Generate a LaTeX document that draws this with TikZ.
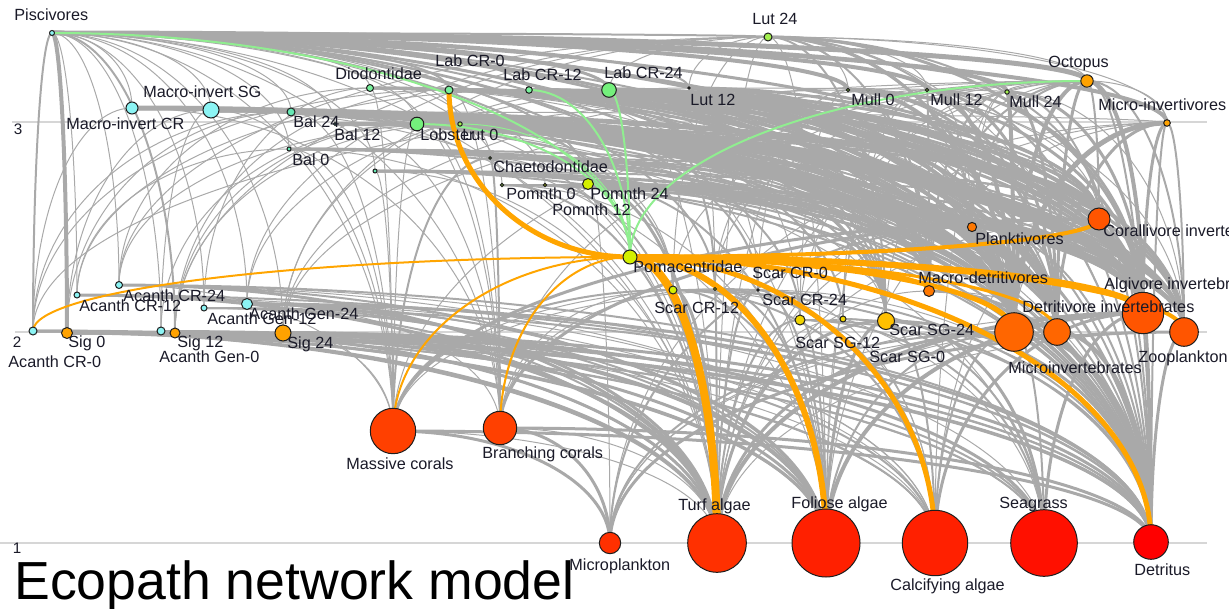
\documentclass[tikz,border=0pt]{standalone}
\usepackage{fontspec}
\setmainfont{Liberation Sans}
\usetikzlibrary{calc}
\pgfdeclarelayer{axes}
\pgfdeclarelayer{edges}
\pgfsetlayers{axes,edges,main}

% palette
\definecolor{edgegray}{HTML}{A9A9A9}
\definecolor{edgegreen}{HTML}{90EE90}
\definecolor{edgeorange}{HTML}{FFA500}
\definecolor{axisgray}{HTML}{D6D6D6}
\definecolor{nodeline}{HTML}{1E1E1E}
\definecolor{labeltext}{HTML}{1A1A28}
\definecolor{cyanA}{HTML}{8CF4F4}
\definecolor{aquaA}{HTML}{66E8B4}
\definecolor{greenA}{HTML}{78F09C}
\definecolor{greenB}{HTML}{74F07C}
\definecolor{limeA}{HTML}{A4F050}
\definecolor{limeB}{HTML}{D4F000}
\definecolor{yelA}{HTML}{F0D400}
\definecolor{yelB}{HTML}{FFC000}
\definecolor{orA}{HTML}{FFA200}
\definecolor{orB}{HTML}{FF7800}
\definecolor{orC}{HTML}{FF6600}
\definecolor{orD}{HTML}{FF5500}
\definecolor{redA}{HTML}{FF4000}
\definecolor{redB}{HTML}{FF3000}
\definecolor{redC}{HTML}{FF2000}
\definecolor{redD}{HTML}{FF1000}
\definecolor{redE}{HTML}{FF0000}

% a functional group: name, x, y, radius (px), fill
\newcommand\fwnode[5]{\node[fwn,fill=#5,minimum size=#4pt] (#1) at (#2,#3) {};}
% a flow: leaves the source horizontally, reaches the target vertically
\newcommand\fwarc[4]{%
  \draw[#1,line width=#4*0.5pt] let \p1=(#2.center), \p2=(#3.center) in
    (#2.center) .. controls ({\x1+0.5523*(\x2-\x1)},\y1) and (\x2,{\y2+0.5523*(\y1-\y2)}) .. (#3.center);}

\begin{document}
\begin{tikzpicture}[x=0.5pt,y=-0.5pt,
  fwn/.style={circle,draw=nodeline,line width=0.5pt,inner sep=0pt},
  lbl/.style={anchor=base west,inner sep=0pt,font=\fontsize{8.1}{9.7}\selectfont,text=labeltext,yshift=-2.9pt},
  axislbl/.style={anchor=base,inner sep=0pt,font=\fontsize{7.6}{8}\selectfont,text=labeltext},
  axisline/.style={draw=axisgray,line width=0.6pt},
  fwgray/.style={draw=edgegray},
  fwgreen/.style={draw=edgegreen},
  fworange/.style={draw=edgeorange}]
\useasboundingbox (0,0) rectangle (1229,609);

% trophic level guide lines
\begin{pgfonlayer}{axes}
  \draw[axisline] (12,122) -- (1207,122);
  \draw[axisline] (15,332) -- (1207,332);
  \draw[axisline] (0,543) -- (1207,543);
\end{pgfonlayer}
\node[axislbl] (ax3) at (18,135) {3};
\node[axislbl] (ax2) at (17,347) {2};
\node[axislbl] (ax1) at (17,553) {1};

% functional groups
\fwnode{pisc}{52}{33}{2.5}{cyanA}
\fwnode{mcr}{132}{108}{6}{cyanA}
\fwnode{msg}{211}{110}{8}{cyanA}
\fwnode{bal24}{291}{112}{4}{aquaA}
\fwnode{bal12}{335}{124}{1.5}{aquaA}
\fwnode{bal0}{289}{149}{2}{aquaA}
\fwnode{fishx}{375}{171}{2}{aquaA}
\fwnode{diod}{370}{88}{3.5}{greenA}
\fwnode{lab0}{449}{90}{4}{greenA}
\fwnode{lab12}{529}{90}{3.3}{greenA}
\fwnode{lab24}{609}{90}{7.3}{greenB}
\fwnode{lut24}{768}{37}{4}{limeA}
\fwnode{lut12}{689}{88}{1.2}{black}
\fwnode{lob}{417}{124}{6.8}{greenB}
\fwnode{lut0}{460}{124}{2.2}{limeA}
\fwnode{chae}{490}{158}{1.3}{limeA}
\fwnode{pom0}{502}{185}{1.6}{limeA}
\fwnode{pom12}{545}{185}{1.6}{limeB}
\fwnode{pom24}{588}{184}{5.5}{limeB}
\fwnode{mull0}{848}{90}{1.6}{limeA}
\fwnode{mull12}{927}{90}{1.6}{limeA}
\fwnode{mull24}{1007}{92}{2.2}{limeA}
\fwnode{octo}{1087}{81}{6.2}{orA}
\fwnode{micv}{1167}{123}{3.3}{orA}
\fwnode{poma}{630}{257}{7}{limeB}
\fwnode{plank}{972}{227}{4.6}{orB}
\fwnode{coral}{1099}{219}{11}{orD}
\fwnode{scr0}{715}{289}{1.5}{limeB}
\fwnode{scr12}{673}{290}{4}{limeB}
\fwnode{scr24}{758}{290}{1.2}{black}
\fwnode{mdet}{929}{291}{5.5}{orB}
\fwnode{ssg12}{800}{320}{5}{yelA}
\fwnode{ssg0}{843}{319}{3}{yelA}
\fwnode{ssg24}{886}{321}{8.5}{yelB}
\fwnode{minv}{1014}{332}{19.3}{orC}
\fwnode{dinv}{1057}{332}{13.3}{orC}
\fwnode{alg}{1143}{313}{20.7}{orD}
\fwnode{zoo}{1184}{332}{14.3}{orD}
\fwnode{acr0}{33}{331}{4}{cyanA}
\fwnode{sig0}{67}{333}{5.5}{orA}
\fwnode{acr12}{77}{295}{3}{cyanA}
\fwnode{acr24}{119}{285}{3.5}{cyanA}
\fwnode{ag12}{204}{308}{3}{cyanA}
\fwnode{ag24}{247}{304}{5.5}{cyanA}
\fwnode{ag0}{161}{331}{4}{cyanA}
\fwnode{sig12}{175}{333}{5}{orA}
\fwnode{sig24}{283}{333}{8}{orA}
\fwnode{mas}{393}{431}{22.7}{redA}
\fwnode{bra}{500}{428}{16.7}{redA}
\fwnode{mpl}{610}{543}{10.7}{redB}
\fwnode{turf}{717}{543}{29.3}{redB}
\fwnode{fol}{826}{543}{34}{redC}
\fwnode{calc}{935}{543}{32.7}{redC}
\fwnode{sea}{1044}{543}{33.3}{redD}
\fwnode{det}{1151}{542}{17.3}{redE}

% flows between groups
\begin{pgfonlayer}{edges}
\foreach \s/\t/\w in {
  pisc/acr0/2, pisc/sig0/4, pisc/acr12/1, pisc/acr24/1, pisc/ag0/1, pisc/sig12/2,
  pisc/ag12/1, pisc/ag24/1, pisc/sig24/1, pisc/mcr/1, pisc/msg/1, pisc/bal24/1,
  pisc/bal12/1, pisc/bal0/1, pisc/fishx/1, pisc/diod/1, pisc/lab0/2, pisc/lab12/2,
  pisc/lab24/3, pisc/lut24/2, pisc/lut12/2, pisc/lob/1, pisc/lut0/1, pisc/chae/1,
  pisc/pom0/1, pisc/pom12/1, pisc/pom24/2, pisc/mull0/4, pisc/mull12/4, pisc/mull24/4,
  pisc/octo/5, pisc/micv/4, pisc/plank/4, pisc/coral/3, pisc/scr0/2, pisc/scr12/2,
  pisc/scr24/2, pisc/ssg0/2, pisc/ssg12/2, pisc/ssg24/3, pisc/mdet/3, pisc/mas/1,
  pisc/bra/1, pisc/minv/3, pisc/alg/3, pisc/dinv/2, pisc/zoo/2, pisc/det/1, pisc/turf/1}
  {\fwarc{fwgray}{\s}{\t}{\w}}
\foreach \s/\t/\w in {
  lut24/lut12/1, lut24/lab24/1, lut24/octo/1, lut24/mull0/1, lut24/mull12/1, lut24/micv/1,
  lut24/acr24/1, lut24/sig24/1, lut24/ag24/1, lut24/plank/2, lut24/scr12/1, lut24/ssg24/2,
  lut24/minv/3, lut24/dinv/2, lut24/alg/3, lut24/coral/2, lut24/det/1, lut24/sig12/1,
  lut24/turf/1, lut24/fol/1, lut24/mdet/2,
  mcr/minv/4, mcr/dinv/4, mcr/alg/5, mcr/coral/3, mcr/mdet/2, mcr/det/2, mcr/zoo/2,
  mcr/bra/1, mcr/acr0/1, mcr/plank/1, mcr/ssg24/1,
  msg/alg/5, msg/minv/5, msg/dinv/4, msg/coral/3, msg/mdet/3, msg/det/2, msg/sea/1,
  msg/fol/1, msg/mas/1, msg/sig0/1, msg/ag0/1, msg/zoo/3, msg/plank/2,
  bal24/alg/4, bal24/minv/4, bal24/dinv/3, bal24/coral/3, bal24/mdet/2, bal24/det/2,
  bal24/micv/1, bal24/turf/1, bal24/mas/1, bal24/acr0/1, bal24/sig0/1, bal24/zoo/2, bal24/plank/1,
  bal12/alg/4, bal12/minv/3, bal12/dinv/3, bal12/coral/3, bal12/det/2, bal12/bra/1, bal12/zoo/2,
  bal12/mdet/2,
  bal0/alg/3, bal0/minv/3, bal0/dinv/2, bal0/coral/2, bal0/det/2, bal0/turf/1, bal0/mas/1,
  bal0/acr12/1, bal0/zoo/2,
  fishx/alg/3, fishx/minv/3, fishx/det/2, fishx/turf/1, fishx/mas/1, fishx/dinv/2,
  fishx/zoo/2, fishx/coral/2,
  diod/alg/3, diod/coral/2, diod/minv/3, diod/dinv/2, diod/mdet/2, diod/det/1, diod/mas/1,
  diod/bra/1, diod/acr24/1, diod/ag12/1, diod/ssg24/1}
  {\fwarc{fwgray}{\s}{\t}{\w}}
\foreach \s/\t/\w in {
  lab0/minv/4, lab0/dinv/3, lab0/alg/4, lab0/coral/2, lab0/zoo/3, lab0/mdet/2, lab0/det/2,
  lab0/acr0/1, lab0/sig12/1, lab0/bra/1, lab0/ssg24/2, lab0/plank/1,
  lab12/minv/4, lab12/alg/4, lab12/zoo/3, lab12/coral/2, lab12/dinv/3, lab12/plank/2,
  lab12/det/2, lab12/acr12/1, lab12/ssg24/2, lab12/mdet/2, lab12/fol/1,
  lab24/minv/5, lab24/alg/5, lab24/zoo/4, lab24/coral/3, lab24/dinv/4, lab24/mdet/3,
  lab24/plank/2, lab24/det/3, lab24/sig24/1, lab24/scr24/1, lab24/ssg24/2, lab24/scr0/2,
  lab24/ssg12/1, lab24/turf/1,
  lut12/minv/3, lut12/alg/3, lut12/dinv/2, lut12/mull24/1, lut12/det/2, lut12/ag24/1,
  lut12/scr0/1, lut12/ssg24/2, lut12/plank/1, lut12/mdet/2,
  lob/alg/4, lob/minv/4, lob/dinv/3, lob/coral/3, lob/mdet/2, lob/det/2, lob/mas/1,
  lob/turf/1, lob/bra/1, lob/ag0/1, lob/sig12/1, lob/ssg24/2, lob/plank/1, lob/zoo/2,
  lut0/minv/3, lut0/alg/3, lut0/acr24/1, lut0/sig12/1, lut0/scr12/1, lut0/dinv/2,
  lut0/zoo/2, lut0/det/2,
  chae/mas/2, chae/bra/2, chae/coral/2, chae/turf/1, chae/det/2, chae/minv/2, chae/alg/2,
  pom0/turf/2, pom0/fol/1, pom0/minv/2, pom0/det/2, pom0/zoo/2, pom0/alg/2, pom0/dinv/1,
  pom12/turf/2, pom12/zoo/2, pom12/minv/2, pom12/det/2, pom12/alg/2, pom12/dinv/1,
  pom24/turf/3, pom24/fol/2, pom24/zoo/3, pom24/minv/3, pom24/det/2, pom24/mpl/1,
  pom24/alg/3, pom24/dinv/2}
  {\fwarc{fwgray}{\s}{\t}{\w}}
\foreach \s/\t/\w in {
  mull0/minv/4, mull0/dinv/3, mull0/alg/3, mull0/mdet/2, mull0/det/2, mull0/zoo/1,
  mull0/coral/1, mull0/sig24/1, mull0/ssg12/1, mull0/plank/1, mull0/scr24/1, mull0/turf/1,
  mull12/minv/4, mull12/dinv/3, mull12/alg/3, mull12/mdet/2, mull12/det/2, mull12/ssg0/1,
  mull12/plank/1, mull12/scr0/1, mull12/fol/1,
  mull24/minv/4, mull24/dinv/3, mull24/alg/3, mull24/mdet/2, mull24/det/2, mull24/zoo/1,
  mull24/plank/1, mull24/ssg0/1, mull24/calc/1,
  octo/minv/4, octo/dinv/3, octo/alg/4, octo/zoo/2, octo/coral/2, octo/det/2, octo/mdet/2,
  octo/micv/1, octo/mull24/1, octo/ssg24/1, octo/scr12/1, octo/sig24/1, octo/acr0/1,
  octo/turf/1, octo/plank/2, octo/ssg12/1, octo/scr0/1, octo/mas/1, octo/bra/1,
  micv/minv/5, micv/dinv/3, micv/zoo/2, micv/alg/3, micv/det/2, micv/fol/1, micv/turf/1,
  micv/mpl/1,
  plank/zoo/4, plank/mpl/2, plank/det/2, plank/minv/1, plank/turf/1,
  coral/mas/3, coral/bra/3, coral/det/2, coral/minv/1, coral/turf/1, coral/calc/1,
  scr0/turf/2, scr0/fol/2, scr0/calc/2, scr0/det/2, scr0/mas/1, scr0/bra/1,
  scr12/turf/3, scr12/fol/2, scr12/calc/2, scr12/det/2, scr12/mas/2, scr12/bra/1, scr12/sea/1,
  scr24/turf/2, scr24/fol/2, scr24/calc/1, scr24/det/1, scr24/mas/1,
  mdet/det/3, mdet/minv/2, mdet/dinv/1, mdet/turf/1,
  ssg12/sea/2, ssg12/turf/2, ssg12/fol/2, ssg12/calc/1, ssg12/det/2,
  ssg0/sea/2, ssg0/turf/1, ssg0/fol/1, ssg0/det/1,
  ssg24/sea/3, ssg24/turf/3, ssg24/fol/3, ssg24/calc/2, ssg24/det/3}
  {\fwarc{fwgray}{\s}{\t}{\w}}
\foreach \s/\t/\w in {
  minv/turf/3, minv/fol/2, minv/calc/2, minv/sea/2, minv/det/4, minv/mpl/2,
  dinv/det/4, dinv/turf/1, dinv/mpl/1,
  alg/turf/4, alg/fol/4, alg/calc/3, alg/sea/3, alg/det/3, alg/mpl/1,
  zoo/mpl/3, zoo/det/3, zoo/turf/1,
  acr0/turf/3, acr0/fol/2, acr0/calc/1, acr0/det/3, acr0/sea/1,
  sig0/turf/3, sig0/fol/3, sig0/sea/2, sig0/calc/2, sig0/det/3,
  acr12/turf/3, acr12/fol/2, acr12/det/2, acr12/calc/1,
  acr24/turf/3, acr24/fol/2, acr24/det/2, acr24/calc/1, acr24/sea/1, acr24/mas/1,
  ag12/turf/2, ag12/fol/2, ag12/det/2,
  ag24/turf/3, ag24/fol/2, ag24/det/3, ag24/calc/1, ag24/bra/1,
  ag0/turf/2, ag0/fol/1, ag0/det/2,
  sig12/turf/3, sig12/fol/3, sig12/sea/2, sig12/det/2, sig12/calc/1,
  sig24/turf/4, sig24/fol/4, sig24/sea/3, sig24/calc/2, sig24/det/3, sig24/mas/1,
  mas/mpl/3, mas/det/3, mas/turf/1,
  bra/mpl/3, bra/det/3, bra/turf/1}
  {\fwarc{fwgray}{\s}{\t}{\w}}
% predators of Pomacentridae
\foreach \s/\t/\w in {pisc/poma/2, octo/poma/2, lab12/poma/2, lab24/poma/2, lob/poma/2, lut0/poma/1}
  {\fwarc{fwgreen}{\s}{\t}{\w}}
% flows leaving Pomacentridae
\foreach \s/\t/\w in {
  poma/acr0/2, poma/mas/2, poma/bra/2, poma/lab0/5, poma/turf/8, poma/fol/6, poma/calc/5,
  poma/det/5, poma/coral/4, poma/alg/6, poma/minv/5, poma/zoo/4, poma/mdet/3, poma/dinv/3}
  {\fwarc{fworange}{\s}{\t}{\w}}
\end{pgfonlayer}

% group labels
\node[lbl] (l-pisc) at (14,15) {Piscivores};
\node[lbl] (l-msg) at (143,92) {Macro-invert SG};
\node[lbl] (l-mcr) at (66,124) {Macro-invert CR};
\node[lbl] (l-bal24) at (293,122) {Bal 24};
\node[lbl] (l-bal12) at (334,135) {Bal 12};
\node[lbl] (l-bal0) at (292,160) {Bal 0};
\node[lbl] (l-diod) at (335,74) {Diodontidae};
\node[lbl] (l-lab0) at (435,61) {Lab CR-0};
\node[lbl] (l-lab12) at (503,75) {Lab CR-12};
\node[lbl] (l-lab24) at (604,73) {Lab CR-24};
\node[lbl] (l-lut24) at (752,19) {Lut 24};
\node[lbl] (l-lut12) at (690,100) {Lut 12};
\node[lbl] (l-lob) at (420,135) {Lobster};
\node[lbl] (l-lut0) at (462,135) {Lut 0};
\node[lbl] (l-chae) at (493,167) {Chaetodontidae};
\node[lbl] (l-pom0) at (506,194) {Pomnth 0};
\node[lbl] (l-pom24) at (590,194) {Pomnth 24};
\node[lbl] (l-pom12) at (552,210) {Pomnth 12};
\node[lbl] (l-mull0) at (851,100) {Mull 0};
\node[lbl] (l-mull12) at (930,100) {Mull 12};
\node[lbl] (l-mull24) at (1009,102) {Mull 24};
\node[lbl] (l-octo) at (1048,62) {Octopus};
\node[lbl] (l-micv) at (1098,105) {Micro-invertivores};
\node[lbl] (l-poma) at (633,267) {Pomacentridae};
\node[lbl] (l-plank) at (975,239) {Planktivores};
\node[lbl] (l-coral) at (1103,231) {Corallivore invertebrates};
\node[lbl] (l-scr0) at (752,273) {Scar CR-0};
\node[lbl] (l-scr12) at (654,308) {Scar CR-12};
\node[lbl] (l-scr24) at (762,300) {Scar CR-24};
\node[lbl] (l-mdet) at (918,278) {Macro-detritivores};
\node[lbl] (l-ssg24) at (889,330) {Scar SG-24};
\node[lbl] (l-ssg12) at (795,343) {Scar SG-12};
\node[lbl] (l-ssg0) at (869,357) {Scar SG-0};
\node[lbl] (l-alg) at (1104,284) {Algivore invertebrates};
\node[lbl] (l-dinv) at (1022,307) {Detritivore invertebrates};
\node[lbl] (l-minv) at (1008,368) {Microinvertebrates};
\node[lbl] (l-zoo) at (1138,357) {Zooplankton};
\node[lbl] (l-acr0) at (8,362) {Acanth CR-0};
\node[lbl] (l-sig0) at (68,342) {Sig 0};
\node[lbl] (l-acr12) at (79,306) {Acanth CR-12};
\node[lbl] (l-acr24) at (123,296) {Acanth CR-24};
\node[lbl] (l-ag12) at (207,319) {Acanth Gen-12};
\node[lbl] (l-ag24) at (249,314) {Acanth Gen-24};
\node[lbl] (l-ag0) at (159,357) {Acanth Gen-0};
\node[lbl] (l-sig12) at (177,342) {Sig 12};
\node[lbl] (l-sig24) at (287,343) {Sig 24};
\node[lbl] (l-mas) at (346,464) {Massive corals};
\node[lbl] (l-bra) at (482,453) {Branching corals};
\node[lbl] (l-mpl) at (569,565) {Microplankton};
\node[lbl] (l-turf) at (678,505) {Turf algae};
\node[lbl] (l-fol) at (791,503) {Foliose algae};
\node[lbl] (l-calc) at (890,585) {Calcifying algae};
\node[lbl] (l-sea) at (999,503) {Seagrass};
\node[lbl] (l-det) at (1134,570) {Detritus};

% caption
\node[anchor=base west,inner sep=0pt,font=\fontsize{26.8}{32}\selectfont] (title) at (14,599) {Ecopath network model};
\end{tikzpicture}
\end{document}
